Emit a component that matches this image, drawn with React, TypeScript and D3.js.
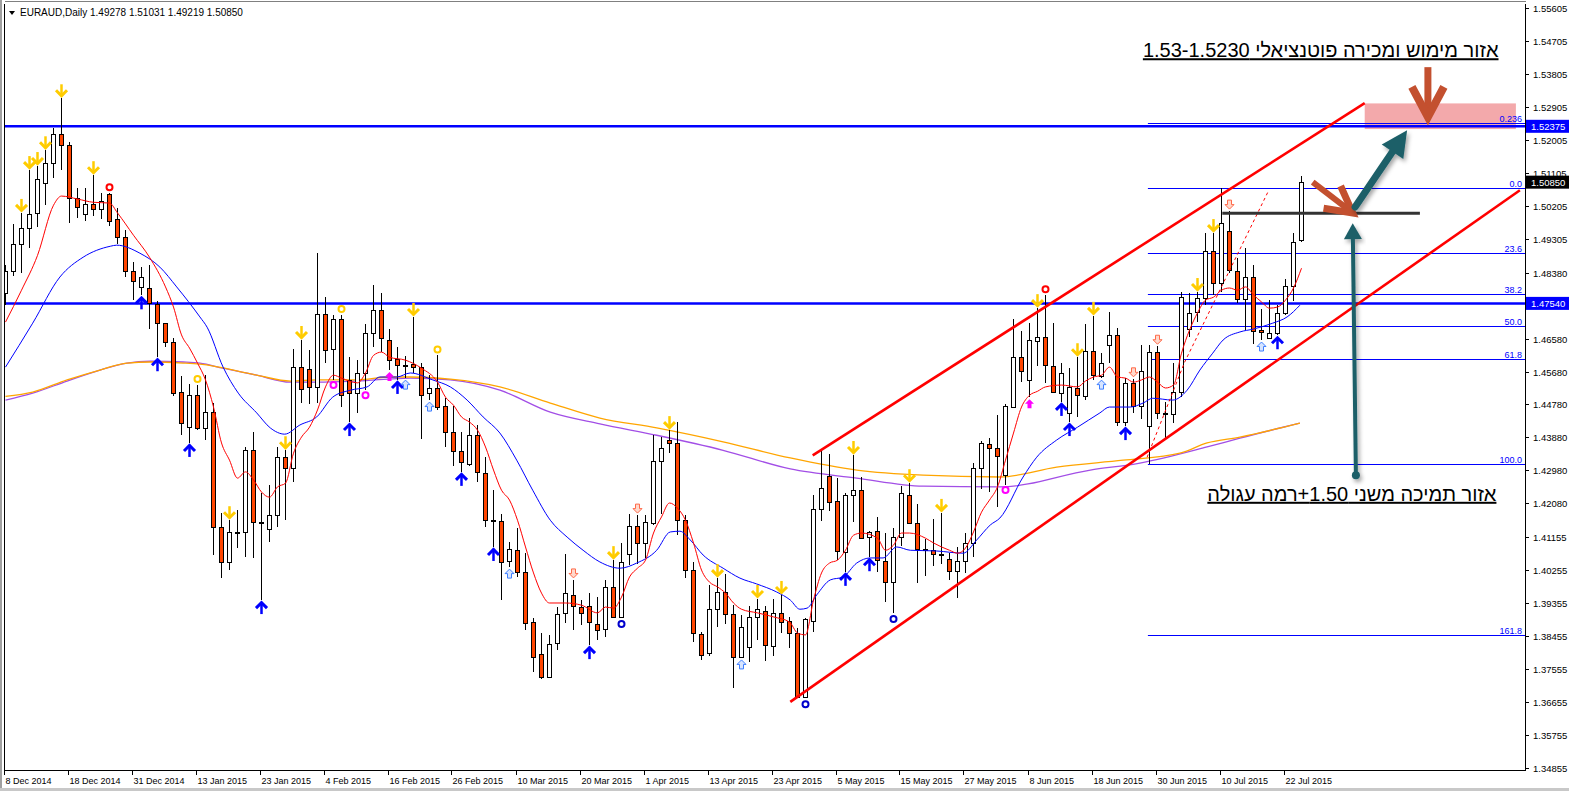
import * as d3 from "d3";
import { useEffect, useRef } from "react";

const W = 1569;
const H = 791;

// daily candles: open, high, low, close (8 Dec 2014 .. 24 Jul 2015)
const ohlc: [number, number, number, number][] = [
  [1.4782, 1.4858, 1.4749, 1.4842], [1.4842, 1.497, 1.4829, 1.4916], [1.4916, 1.5001, 1.4837, 1.4959],
  [1.4959, 1.5118, 1.4905, 1.4998], [1.5001, 1.5129, 1.4962, 1.5093], [1.5083, 1.5172, 1.5022, 1.5137],
  [1.5137, 1.5232, 1.5096, 1.5216], [1.5216, 1.5314, 1.5118, 1.5186], [1.5186, 1.5195, 1.4973, 1.5041],
  [1.5041, 1.5069, 1.4987, 1.5017], [1.4998, 1.5069, 1.4978, 1.5025], [1.5025, 1.5104, 1.4993, 1.5011],
  [1.5011, 1.5055, 1.4984, 1.5033], [1.5052, 1.5055, 1.4965, 1.4978], [1.4984, 1.5014, 1.4916, 1.4935],
  [1.4935, 1.4954, 1.4826, 1.4842], [1.4842, 1.4867, 1.4763, 1.4815], [1.4799, 1.4853, 1.4776, 1.4826],
  [1.4796, 1.4858, 1.4683, 1.4755], [1.4752, 1.476, 1.4607, 1.47], [1.47, 1.47, 1.4635, 1.4649],
  [1.4649, 1.4659, 1.4501, 1.4509], [1.4512, 1.4556, 1.4394, 1.4427], [1.4416, 1.4534, 1.4373, 1.4503],
  [1.4503, 1.4531, 1.4408, 1.4413], [1.4413, 1.4558, 1.4381, 1.4458], [1.4458, 1.4482, 1.4066, 1.4143],
  [1.4143, 1.4182, 1.4004, 1.4048], [1.4048, 1.4162, 1.4026, 1.413], [1.413, 1.419, 1.4086, 1.4131],
  [1.413, 1.4362, 1.4061, 1.4353], [1.4353, 1.4403, 1.4058, 1.4157], [1.4157, 1.4236, 1.3944, 1.4158],
  [1.4137, 1.4258, 1.4103, 1.4176], [1.4176, 1.4362, 1.4143, 1.4334], [1.4334, 1.4353, 1.4162, 1.4304],
  [1.4304, 1.4629, 1.4267, 1.458], [1.458, 1.4654, 1.4482, 1.452], [1.4574, 1.4626, 1.4479, 1.4526],
  [1.4526, 1.4891, 1.4482, 1.4725], [1.4725, 1.4771, 1.4591, 1.4626], [1.4629, 1.4722, 1.4545, 1.4711],
  [1.4711, 1.4722, 1.4471, 1.4503], [1.4545, 1.4607, 1.443, 1.4509], [1.4509, 1.4599, 1.4455, 1.4564],
  [1.4564, 1.4697, 1.4517, 1.4673], [1.4673, 1.4804, 1.4635, 1.4736], [1.4736, 1.4782, 1.4621, 1.4659],
  [1.4654, 1.4683, 1.4572, 1.4599], [1.4601, 1.4635, 1.4545, 1.4585], [1.4586, 1.461, 1.455, 1.4585],
  [1.4588, 1.4717, 1.4564, 1.458], [1.458, 1.4591, 1.4383, 1.4503], [1.4509, 1.4558, 1.449, 1.4523],
  [1.4523, 1.4612, 1.4463, 1.4471], [1.4474, 1.4495, 1.4362, 1.4403], [1.4403, 1.4474, 1.431, 1.435],
  [1.435, 1.4403, 1.4294, 1.4321], [1.4315, 1.4441, 1.431, 1.4394], [1.4394, 1.4421, 1.4267, 1.4294],
  [1.4291, 1.4334, 1.4143, 1.4162], [1.4162, 1.4244, 1.4089, 1.4161], [1.416, 1.4179, 1.3944, 1.4048],
  [1.405, 1.4103, 1.4034, 1.4083], [1.408, 1.414, 1.4007, 1.4021], [1.4021, 1.4072, 1.3862, 1.3881],
  [1.3884, 1.3895, 1.3748, 1.3788], [1.3796, 1.3854, 1.3728, 1.3734], [1.3734, 1.3848, 1.3732, 1.3824],
  [1.3827, 1.3925, 1.3807, 1.3906], [1.3909, 1.4069, 1.3881, 1.3963], [1.3958, 1.3999, 1.3862, 1.3928],
  [1.3925, 1.3944, 1.3875, 1.3909], [1.3928, 1.3963, 1.3821, 1.3884], [1.3878, 1.3952, 1.3835, 1.3862],
  [1.3864, 1.3999, 1.3843, 1.398], [1.398, 1.4053, 1.3895, 1.3898], [1.3898, 1.41, 1.3895, 1.4048],
  [1.4069, 1.4179, 1.4039, 1.4146], [1.4146, 1.4176, 1.4042, 1.41], [1.41, 1.4176, 1.4058, 1.4157],
  [1.4154, 1.4394, 1.4149, 1.4323], [1.4323, 1.4389, 1.4179, 1.4359], [1.4381, 1.4408, 1.4345, 1.4373],
  [1.4373, 1.443, 1.4121, 1.4162], [1.4162, 1.4176, 1.4004, 1.4026], [1.4026, 1.4048, 1.383, 1.3854],
  [1.3851, 1.3857, 1.378, 1.3793], [1.3799, 1.3985, 1.379, 1.3919], [1.3919, 1.4004, 1.387, 1.3966],
  [1.3966, 1.4015, 1.3878, 1.3906], [1.3906, 1.393, 1.3704, 1.3788], [1.3788, 1.3903, 1.3786, 1.387],
  [1.3816, 1.3928, 1.3775, 1.3898], [1.3898, 1.3947, 1.3835, 1.3919], [1.3914, 1.3928, 1.3777, 1.3821],
  [1.3818, 1.3947, 1.3791, 1.3909], [1.3909, 1.3958, 1.3854, 1.3884], [1.3887, 1.3898, 1.3813, 1.3854],
  [1.3854, 1.3867, 1.3676, 1.3679], [1.3679, 1.3895, 1.3676, 1.3892], [1.3887, 1.423, 1.3857, 1.4192],
  [1.4192, 1.4353, 1.416, 1.425], [1.4283, 1.4342, 1.4187, 1.4212], [1.4214, 1.4277, 1.4053, 1.4077],
  [1.4075, 1.4236, 1.4021, 1.423], [1.423, 1.434, 1.4157, 1.4244], [1.4244, 1.428, 1.4111, 1.4113],
  [1.4116, 1.4132, 1.4061, 1.413], [1.4132, 1.4171, 1.4021, 1.4053], [1.405, 1.4127, 1.3939, 1.3993],
  [1.3993, 1.414, 1.3909, 1.4116], [1.4116, 1.4255, 1.4092, 1.4236], [1.423, 1.4263, 1.4151, 1.4154],
  [1.4154, 1.4206, 1.3991, 1.4083], [1.4083, 1.4111, 1.401, 1.4082], [1.408, 1.4165, 1.4037, 1.4069],
  [1.4069, 1.4182, 1.4042, 1.4068], [1.4056, 1.4072, 1.3999, 1.4023], [1.4023, 1.4089, 1.395, 1.405],
  [1.405, 1.4127, 1.4018, 1.41], [1.41, 1.4318, 1.4061, 1.4304], [1.4304, 1.4378, 1.4247, 1.4373],
  [1.437, 1.4386, 1.4239, 1.4359], [1.4359, 1.4449, 1.4198, 1.4337], [1.4285, 1.4479, 1.4258, 1.4474],
  [1.4471, 1.4711, 1.4468, 1.4607], [1.4607, 1.4678, 1.4539, 1.4569], [1.4545, 1.47, 1.4498, 1.4654],
  [1.4651, 1.4741, 1.4583, 1.4662], [1.4662, 1.4776, 1.4537, 1.4585], [1.4583, 1.47, 1.4509, 1.4512],
  [1.4509, 1.4591, 1.4485, 1.4564], [1.4455, 1.4577, 1.443, 1.4526], [1.4523, 1.4607, 1.4444, 1.4503],
  [1.4501, 1.4697, 1.449, 1.4624], [1.4624, 1.472, 1.4545, 1.4558], [1.4556, 1.4618, 1.455, 1.4591],
  [1.464, 1.473, 1.4591, 1.4667], [1.4667, 1.4686, 1.4419, 1.443], [1.443, 1.455, 1.4419, 1.4537],
  [1.4537, 1.4548, 1.4455, 1.4474], [1.4474, 1.464, 1.4438, 1.4569], [1.4419, 1.464, 1.4315, 1.4621],
  [1.4621, 1.4637, 1.4438, 1.4455], [1.4455, 1.4485, 1.4381, 1.4454], [1.4452, 1.4591, 1.4427, 1.4512],
  [1.4512, 1.4785, 1.4498, 1.4771], [1.4683, 1.4782, 1.4662, 1.4728], [1.473, 1.4785, 1.4703, 1.4768],
  [1.4768, 1.4946, 1.4749, 1.4896], [1.4896, 1.4946, 1.4776, 1.481], [1.481, 1.5069, 1.4785, 1.4973],
  [1.4951, 1.5006, 1.4837, 1.4845], [1.4842, 1.4877, 1.4755, 1.4765], [1.4765, 1.4905, 1.4681, 1.4826],
  [1.4826, 1.4858, 1.4643, 1.4678], [1.4681, 1.4738, 1.4654, 1.4676], [1.4659, 1.4763, 1.4659, 1.4673],
  [1.4673, 1.4749, 1.4667, 1.4728], [1.4728, 1.482, 1.4722, 1.4801], [1.4801, 1.4946, 1.476, 1.4922],
  [1.49278, 1.51031, 1.49219, 1.5085],
];

const dateLabels = [
  "8 Dec 2014", "18 Dec 2014", "31 Dec 2014", "13 Jan 2015", "23 Jan 2015", "4 Feb 2015",
  "16 Feb 2015", "26 Feb 2015", "10 Mar 2015", "20 Mar 2015", "1 Apr 2015", "13 Apr 2015",
  "23 Apr 2015", "5 May 2015", "15 May 2015", "27 May 2015", "8 Jun 2015", "18 Jun 2015",
  "30 Jun 2015", "10 Jul 2015", "22 Jul 2015",
];
const barsPerDateLabel = 8;

const priceTicks = [
  "1.55605", "1.54705", "1.53805", "1.52905", "1.52005", "1.51105", "1.50205", "1.49305",
  "1.48380", "1.46580", "1.45680", "1.44780", "1.43880", "1.42980", "1.42080", "1.41155",
  "1.40255", "1.39355", "1.38455", "1.37555", "1.36655", "1.35755", "1.34855",
];

// moving averages: [bar, price]
const fastMA: [number, number][] = [
  [0, 1.4703], [2, 1.479], [4, 1.4885], [6, 1.5022], [7, 1.5047], [9, 1.5039], [11, 1.503], [13, 1.5028],
  [14, 1.5001], [16, 1.494], [18, 1.488], [20, 1.4799], [21, 1.4744], [22, 1.4668], [23, 1.4632], [24, 1.4591],
  [25, 1.4545], [26, 1.4471], [27, 1.4373], [28, 1.4326], [29, 1.4277], [30, 1.4294], [31, 1.4272], [32, 1.4239],
  [33, 1.4225], [34, 1.4253], [35, 1.4263], [36, 1.4345], [37, 1.4389], [38, 1.4416], [39, 1.4463], [40, 1.4526],
  [41, 1.4558], [42, 1.455], [44, 1.4537], [45, 1.4564], [46, 1.4612], [47, 1.4621], [48, 1.4607], [50, 1.4599],
  [52, 1.4577], [54, 1.4539], [55, 1.4498], [56, 1.4476], [57, 1.4444], [58, 1.443], [59, 1.4408], [60, 1.4362],
  [61, 1.4299], [62, 1.4244], [63, 1.4217], [64, 1.4162], [65, 1.4089], [66, 1.4018], [67, 1.3963], [68, 1.3936],
  [70, 1.3936], [72, 1.393], [74, 1.3909], [75, 1.3925], [76, 1.3922], [77, 1.3952], [78, 1.4007], [79, 1.4031],
  [80, 1.4053], [81, 1.4127], [82, 1.4171], [83, 1.4209], [84, 1.4195], [85, 1.4162], [86, 1.41], [87, 1.4026],
  [88, 1.3993], [89, 1.398], [90, 1.3963], [91, 1.3936], [92, 1.3919], [94, 1.3909], [96, 1.3898], [98, 1.3884],
  [99, 1.3854], [100, 1.3849], [101, 1.3944], [102, 1.4018], [103, 1.4045], [104, 1.4053], [105, 1.408],
  [106, 1.4121], [107, 1.4127], [109, 1.4113], [110, 1.408], [111, 1.4094], [112, 1.4127], [113, 1.4127],
  [115, 1.4113], [116, 1.41], [117, 1.4089], [118, 1.408], [119, 1.4072], [120, 1.4086], [121, 1.413],
  [122, 1.4184], [123, 1.4217], [124, 1.4253], [125, 1.4326], [126, 1.44], [127, 1.4471], [128, 1.4503],
  [129, 1.4514], [130, 1.4526], [132, 1.4531], [134, 1.4526], [135, 1.4542], [136, 1.4553], [137, 1.4558],
  [138, 1.458], [139, 1.4553], [140, 1.455], [141, 1.4539], [142, 1.4545], [143, 1.4553], [144, 1.4539],
  [145, 1.4523], [146, 1.4531], [147, 1.4618], [148, 1.4681], [149, 1.4728], [150, 1.4763], [151, 1.4771],
  [152, 1.479], [153, 1.4796], [154, 1.479], [155, 1.4799], [156, 1.4777], [157, 1.4758], [158, 1.4741],
  [159, 1.4744], [160, 1.4763], [161, 1.4796], [162, 1.485],
];
const slowMA: [number, number][] = [
  [0, 1.458], [3.4, 1.47], [6.8, 1.4826], [9.7, 1.488], [13.1, 1.491], [13.9, 1.4913], [16.8, 1.4891],
  [19.3, 1.4853], [21.4, 1.4799], [24.3, 1.4717], [25.2, 1.4689], [27.2, 1.458], [29.1, 1.4509], [31.4, 1.4455],
  [33.1, 1.4414], [34.9, 1.4397], [36.8, 1.4422], [38.9, 1.4444], [40.9, 1.4498], [43.1, 1.4517], [45.2, 1.4526],
  [46.8, 1.4553], [48.9, 1.4553], [50.6, 1.4564], [53.4, 1.4545], [55.6, 1.4526], [57.7, 1.449], [59.7, 1.4444],
  [61.8, 1.44], [63.9, 1.4326], [65.9, 1.4244], [68.1, 1.4162], [70.2, 1.4116], [72.2, 1.408], [74.3, 1.4048],
  [76.8, 1.4031], [78.9, 1.4045], [81.4, 1.408], [83.1, 1.413], [84.3, 1.4132], [85.6, 1.4108], [87.2, 1.4067],
  [89.7, 1.4031], [91.8, 1.4004], [93.9, 1.3988], [96.4, 1.3966], [98.1, 1.3944], [99.3, 1.3919], [100.2, 1.3922],
  [101.4, 1.3958], [103.1, 1.3999], [104.7, 1.4007], [106.4, 1.4045], [108.1, 1.4059], [109.7, 1.4059],
  [111.4, 1.4089], [113.1, 1.408], [116.4, 1.4078], [119.7, 1.4072], [121.4, 1.4108], [123.1, 1.4149],
  [124.3, 1.4168], [127.2, 1.428], [128.9, 1.4334], [131.4, 1.4381], [134, 1.4416], [136.8, 1.4455], [138, 1.4471],
  [140.6, 1.4471], [142.2, 1.4482], [143.4, 1.4495], [145.9, 1.449], [147.7, 1.4517], [149.3, 1.4572],
  [150.9, 1.4618], [152.2, 1.4654], [154.3, 1.4676], [156, 1.4684], [158.4, 1.47], [160.2, 1.4717], [161.8, 1.4749],
];
const orangeMA: [number, number][] = [
  [0, 1.45], [3.4, 1.4512], [7.7, 1.4545], [11.8, 1.4572], [15.2, 1.4591], [18.1, 1.4594], [22.2, 1.4591],
  [24.3, 1.4588], [31.4, 1.4558], [35.6, 1.4542], [38.9, 1.4545], [43.9, 1.4545], [48.1, 1.4553], [50.6, 1.4553],
  [55.6, 1.4547], [61.8, 1.4526], [68.1, 1.4482], [74.3, 1.4441], [81.4, 1.4414], [89.7, 1.4376], [98.1, 1.4332],
  [106.4, 1.4299], [114.7, 1.4285], [124.3, 1.428], [131.4, 1.4307], [139.7, 1.4326], [146.8, 1.4345],
  [150.2, 1.4373], [154.3, 1.4389], [161.8, 1.4427],
];
const purpleMA: [number, number][] = [
  [0, 1.449], [3.4, 1.4509], [7.7, 1.4542], [11.8, 1.4572], [15.2, 1.4591], [18.1, 1.4596], [22.2, 1.4594],
  [24.3, 1.4591], [27.2, 1.4577], [31.4, 1.4558], [35.6, 1.4539], [38.9, 1.4539], [43.9, 1.4542], [50.6, 1.455],
  [55.6, 1.4545], [61.8, 1.4517], [68.1, 1.4457], [74.3, 1.4425], [81.4, 1.4394], [89.7, 1.4353], [98.1, 1.4302],
  [106.4, 1.4277], [114.7, 1.4255], [124.3, 1.4253], [135.6, 1.4299], [141.8, 1.4318], [150.2, 1.4362],
  [154.3, 1.4386], [161.8, 1.4427],
];

// fibonacci retracement anchored between the low and the swing high
const fibStartBar = 142.8;
const fibLow = 1.4315;
const fibHigh = 1.5069;
const fibLevels = [
  { label: "0.236", ratio: -0.236 },
  { label: "0.0", ratio: 0 },
  { label: "23.6", ratio: 0.236 },
  { label: "38.2", ratio: 0.382 },
  { label: "50.0", ratio: 0.5 },
  { label: "61.8", ratio: 0.618 },
  { label: "100.0", ratio: 1 },
  { label: "161.8", ratio: 1.618 },
];

const levelLines = [1.52375, 1.4754];
const lastPrice = 1.5085;

const channelUpper: [number, number][] = [[100.9, 1.4339], [169.9, 1.5301]];
const channelLower: [number, number][] = [[98.1, 1.3666], [189.3, 1.5063]];
const dashedTrend: [number, number][] = [[142.7, 1.4334], [147.4, 1.4594], [157.8, 1.5058]];
const supportLine = { from: 152.1, to: 176.8, price: 1.5 };
const targetZone = { from: 169.9, to: 188.8, top: 1.53, bottom: 1.523 };

// signal markers per bar
const markerBars: Record<string, number[]> = {
  yellowDown: [2, 3, 4, 5, 7, 11, 28, 35, 37, 51, 76, 83, 89, 94, 97, 106, 113, 117, 129, 134, 136, 149, 151],
  blueUp: [17, 19, 23, 32, 43, 49, 57, 61, 73, 105, 108, 132, 133, 140, 159],
  redRing: [13, 130],
  yellowRing: [24, 42, 54],
  blueRing: [77, 100, 111],
  magentaRing: [41, 45, 125],
  magentaUp: [48, 128],
  lightUp: [50, 53, 63, 92, 137, 157],
  salmonDown: [71, 79, 141, 144, 153],
};

const topNote = "אזור מימוש ומכירה פוטנציאלי 1.53-1.5230";
const bottomNote = "אזור תמיכה משני 1.50+רמה עגולה";

export default function App() {
  const svgRef = useRef<SVGSVGElement>(null);

  useEffect(() => {
    if (!svgRef.current) return;
    const svg = d3.select(svgRef.current);
    svg.selectAll("*").remove();

    const left = 5;
    const right = 1525;
    const top = 4;
    const bottom = 770;

    const x = d3.scaleLinear().domain([0, 190]).range([5.5, 5.5 + 190 * 8]);
    const y = d3.scaleLinear().domain([1.34855, 1.55605]).range([768, 8]);
    const font = "'Liberation Sans', Arial, sans-serif";

    svg.append("rect").attr("width", W).attr("height", H).attr("fill", "#ffffff");

    const defs = svg.append("defs");
    defs.append("clipPath").attr("id", "plot")
      .append("rect").attr("x", left).attr("y", top).attr("width", right - left).attr("height", bottom - top);
    const shadow = defs.append("filter").attr("id", "shadow").attr("x", "-20%").attr("y", "-20%")
      .attr("width", "140%").attr("height", "140%");
    shadow.append("feDropShadow").attr("dx", 2).attr("dy", 3).attr("stdDeviation", 2)
      .attr("flood-color", "#000").attr("flood-opacity", 0.35);

    // window frame
    svg.append("rect").attr("x", 0).attr("y", 0).attr("width", 2).attr("height", H).attr("fill", "#a0a0a0");
    svg.append("rect").attr("x", 0).attr("y", H - 3).attr("width", W).attr("height", 3).attr("fill", "#c8c8c8");

    const plot = svg.append("g").attr("clip-path", "url(#plot)");

    // target zone
    plot.append("rect")
      .attr("x", x(targetZone.from)).attr("y", y(targetZone.top))
      .attr("width", x(targetZone.to) - x(targetZone.from))
      .attr("height", y(targetZone.bottom) - y(targetZone.top))
      .attr("fill", "#f3a9ab");

    // fibonacci lines
    const fibG = plot.append("g");
    fibLevels.forEach((f) => {
      const price = fibHigh - f.ratio * (fibHigh - fibLow);
      const yy = Math.round(y(price)) + 0.5;
      fibG.append("line").attr("x1", x(fibStartBar)).attr("x2", right).attr("y1", yy).attr("y2", yy)
        .attr("stroke", "#0000ff").attr("stroke-width", 1);
      fibG.append("text").attr("x", right - 3).attr("y", yy - 2).attr("text-anchor", "end")
        .attr("font-family", font).attr("font-size", 9).attr("fill", "#0000ff").text(f.label);
    });

    // horizontal levels
    levelLines.forEach((p) => {
      plot.append("line").attr("x1", left).attr("x2", right).attr("y1", y(p)).attr("y2", y(p))
        .attr("stroke", "#0000ff").attr("stroke-width", 2.5);
    });

    // long moving averages
    const line = d3.line<[number, number]>().x((d) => x(d[0])).y((d) => y(d[1])).curve(d3.curveMonotoneX);
    plot.append("path").attr("d", line(purpleMA)).attr("fill", "none").attr("stroke", "#a24ee6").attr("stroke-width", 1.3);
    plot.append("path").attr("d", line(orangeMA)).attr("fill", "none").attr("stroke", "#ffa500").attr("stroke-width", 1.3);

    // candles
    const candles = plot.append("g").attr("shape-rendering", "crispEdges");
    ohlc.forEach(([o, h, l, c], i) => {
      const cx = x(i);
      candles.append("line").attr("x1", cx).attr("x2", cx).attr("y1", y(h)).attr("y2", y(l))
        .attr("stroke", "#000").attr("stroke-width", 1);
      const y0 = Math.round(y(Math.max(o, c))) + 0.5;
      const y1 = Math.round(y(Math.min(o, c))) + 0.5;
      if (y1 - y0 < 1) {
        candles.append("line").attr("x1", cx - 2.5).attr("x2", cx + 2.5).attr("y1", y0).attr("y2", y0)
          .attr("stroke", "#000").attr("stroke-width", 2);
      } else {
        candles.append("rect").attr("x", cx - 2).attr("y", y0).attr("width", 4).attr("height", y1 - y0)
          .attr("fill", c >= o ? "#ffffff" : "#ff4500").attr("stroke", "#000").attr("stroke-width", 1);
      }
    });

    // fast moving averages
    plot.append("path").attr("d", line(slowMA)).attr("fill", "none").attr("stroke", "#0000ff").attr("stroke-width", 1);
    plot.append("path").attr("d", line(fastMA)).attr("fill", "none").attr("stroke", "#ff0000").attr("stroke-width", 1);

    // channel and trend lines
    const straight = d3.line<[number, number]>().x((d) => x(d[0])).y((d) => y(d[1]));
    [channelUpper, channelLower].forEach((ch) => {
      plot.append("path").attr("d", straight(ch)).attr("stroke", "#ff0000").attr("stroke-width", 2.6).attr("fill", "none");
    });
    plot.append("path").attr("d", straight(dashedTrend)).attr("stroke", "#ff0000").attr("stroke-width", 1)
      .attr("stroke-dasharray", "3,3").attr("fill", "none");
    plot.append("line").attr("x1", x(supportLine.from)).attr("x2", x(supportLine.to))
      .attr("y1", y(supportLine.price)).attr("y2", y(supportLine.price))
      .attr("stroke", "#333333").attr("stroke-width", 3);

    // markers
    const mk = plot.append("g");
    const upArrow = (cx: number, t: number) =>
      `M${cx},${t} L${cx + 4.5},${t + 4.5} L${cx + 2},${t + 4.5} L${cx + 2},${t + 9} L${cx - 2},${t + 9} L${cx - 2},${t + 4.5} L${cx - 4.5},${t + 4.5} Z`;
    const downArrow = (cx: number, b: number) =>
      `M${cx},${b} L${cx + 4.5},${b - 4.5} L${cx + 2},${b - 4.5} L${cx + 2},${b - 9} L${cx - 2},${b - 9} L${cx - 2},${b - 4.5} L${cx - 4.5},${b - 4.5} Z`;
    const chevron = (cx: number, tip: number, dir: number, color: string) => {
      mk.append("line").attr("x1", cx).attr("x2", cx).attr("y1", tip - dir * 13).attr("y2", tip - dir * 2)
        .attr("stroke", color).attr("stroke-width", 2.5);
      mk.append("path")
        .attr("d", `M${cx - 5.5},${tip - dir * 7} L${cx},${tip - dir * 1.5} L${cx + 5.5},${tip - dir * 7}`)
        .attr("fill", "none").attr("stroke", color).attr("stroke-width", 3).attr("stroke-linejoin", "miter");
    };
    const ring = (cx: number, cy: number, color: string) => {
      mk.append("circle").attr("cx", cx).attr("cy", cy).attr("r", 3).attr("fill", "#fff")
        .attr("stroke", color).attr("stroke-width", 2);
    };
    Object.entries(markerBars).forEach(([type, bars]) => {
      bars.forEach((i) => {
        const [, h, l] = ohlc[i];
        const cx = x(i);
        const hy = y(h);
        const ly = y(l);
        if (type === "yellowDown") chevron(cx, hy - 1, 1, "#ffcc00");
        else if (type === "blueUp") chevron(cx, ly + 1, -1, "#0000ff");
        else if (type === "redRing") ring(cx, hy - 6, "#ff0000");
        else if (type === "yellowRing") ring(cx, hy - 6, "#ffcc00");
        else if (type === "blueRing") ring(cx, ly + 6, "#0000cc");
        else if (type === "magentaRing") ring(cx, ly + 5, "#ff00ff");
        else if (type === "magentaUp")
          mk.append("path").attr("d", upArrow(cx, ly + 2)).attr("fill", "#ff00ff");
        else if (type === "lightUp")
          mk.append("path").attr("d", upArrow(cx, ly + 2)).attr("fill", "#d6e4ff").attr("stroke", "#3f7fff").attr("stroke-width", 1);
        else if (type === "salmonDown")
          mk.append("path").attr("d", downArrow(cx, hy - 2)).attr("fill", "#ffd9cc").attr("stroke", "#ff6a4a").attr("stroke-width", 1);
      });
    });

    // annotation arrows
    const ann = plot.append("g");
    const red = "#c3502f";
    const teal = "#1d5f68";
    const chevArrow = (b1: number, p1: number, b2: number, p2: number, w: number, len: number, half: number) => {
      const x1 = x(b1), y1 = y(p1), x2 = x(b2), y2 = y(p2);
      const a = Math.atan2(y2 - y1, x2 - x1);
      const ux = Math.cos(a), uy = Math.sin(a);
      ann.append("line").attr("x1", x1).attr("y1", y1).attr("x2", x2 - ux * 4).attr("y2", y2 - uy * 4)
        .attr("stroke", red).attr("stroke-width", w);
      const bx = x2 - ux * len, by = y2 - uy * len;
      ann.append("path")
        .attr("d", `M${bx - uy * half},${by + ux * half} L${x2},${y2} L${bx + uy * half},${by - ux * half}`)
        .attr("fill", "none").attr("stroke", red).attr("stroke-width", w + 1).attr("stroke-linejoin", "miter");
    };
    chevArrow(177.8, 1.5399, 177.8, 1.5263, 7, 30, 16);
    chevArrow(163.4, 1.5085, 168.4, 1.5001, 6, 26, 14);

    const triArrow = (b1: number, p1: number, b2: number, p2: number, w: number, len: number, half: number, dot: boolean) => {
      const x1 = x(b1), y1 = y(p1), x2 = x(b2), y2 = y(p2);
      const a = Math.atan2(y2 - y1, x2 - x1);
      const ux = Math.cos(a), uy = Math.sin(a);
      const bx = x2 - ux * len, by = y2 - uy * len;
      const g = ann.append("g").attr("filter", "url(#shadow)");
      g.append("line").attr("x1", x1).attr("y1", y1).attr("x2", bx + ux * 2).attr("y2", by + uy * 2)
        .attr("stroke", teal).attr("stroke-width", w).attr("stroke-linecap", "round");
      g.append("path")
        .attr("d", `M${bx - uy * half},${by + ux * half} L${x2},${y2} L${bx + uy * half},${by - ux * half} Z`)
        .attr("fill", teal);
      if (dot) g.append("circle").attr("cx", x1).attr("cy", y1).attr("r", 4).attr("fill", teal);
    };
    triArrow(168.7, 1.5017, 175.2, 1.5227, 7, 26, 13, false);
    triArrow(168.8, 1.4285, 168.4, 1.4973, 4, 16, 9, true);

    // notes
    svg.append("text").attr("x", x(164.4)).attr("y", y(1.5426)).attr("text-anchor", "middle")
      .attr("direction", "rtl").attr("font-family", font).attr("font-size", 20)
      .attr("text-decoration", "underline").attr("fill", "#000").text(topNote);
    svg.append("text").attr("x", x(168.3)).attr("y", y(1.4215)).attr("text-anchor", "middle")
      .attr("direction", "rtl").attr("font-family", font).attr("font-size", 20)
      .attr("text-decoration", "underline").attr("fill", "#000").text(bottomNote);

    // header
    svg.append("path").attr("d", "M9,11 L15,11 L12,15 Z").attr("fill", "#000");
    svg.append("text").attr("x", 20).attr("y", 16).attr("font-family", font).attr("font-size", 10)
      .attr("fill", "#000").text("EURAUD,Daily  1.49278 1.51031 1.49219 1.50850");

    // frame and axes
    const axis = svg.append("g").attr("shape-rendering", "crispEdges");
    axis.append("line").attr("x1", left - 0.5).attr("x2", left - 0.5).attr("y1", top).attr("y2", bottom).attr("stroke", "#000");
    axis.append("line").attr("x1", right + 0.5).attr("x2", right + 0.5).attr("y1", top).attr("y2", bottom).attr("stroke", "#000");
    axis.append("line").attr("x1", left - 0.5).attr("x2", right + 0.5).attr("y1", bottom + 0.5).attr("y2", bottom + 0.5).attr("stroke", "#000");
    axis.append("line").attr("x1", left - 0.5).attr("x2", right + 0.5).attr("y1", 1.5).attr("y2", 1.5).attr("stroke", "#808080");

    priceTicks.forEach((t) => {
      const yy = Math.round(y(+t)) + 0.5;
      axis.append("line").attr("x1", right).attr("x2", right + 4).attr("y1", yy).attr("y2", yy).attr("stroke", "#000");
      svg.append("text").attr("x", right + 8).attr("y", yy + 3.5).attr("font-family", font).attr("font-size", 9.5)
        .attr("fill", "#000").text(t);
    });

    const priceBox = (p: number, bg: string) => {
      const yy = y(p);
      svg.append("rect").attr("x", right + 1).attr("y", yy - 6.5).attr("width", 44).attr("height", 13).attr("fill", bg);
      svg.append("text").attr("x", right + 6).attr("y", yy + 3.5).attr("font-family", font).attr("font-size", 9.5)
        .attr("fill", "#fff").text(p.toFixed(5));
    };
    levelLines.forEach((p) => priceBox(p, "#0000ff"));
    priceBox(lastPrice, "#000000");

    dateLabels.forEach((d, k) => {
      const xx = Math.round(x(k * barsPerDateLabel)) - 1.5;
      axis.append("line").attr("x1", xx).attr("x2", xx).attr("y1", bottom).attr("y2", bottom + 5).attr("stroke", "#000");
      svg.append("text").attr("x", xx + 1).attr("y", bottom + 14).attr("font-family", font).attr("font-size", 9)
        .attr("fill", "#000").text(d);
    });
  }, []);

  return (
    <svg
      ref={svgRef}
      width={W}
      height={H}
      style={{ position: "absolute", left: 0, top: 0, display: "block" }}
    />
  );
}
